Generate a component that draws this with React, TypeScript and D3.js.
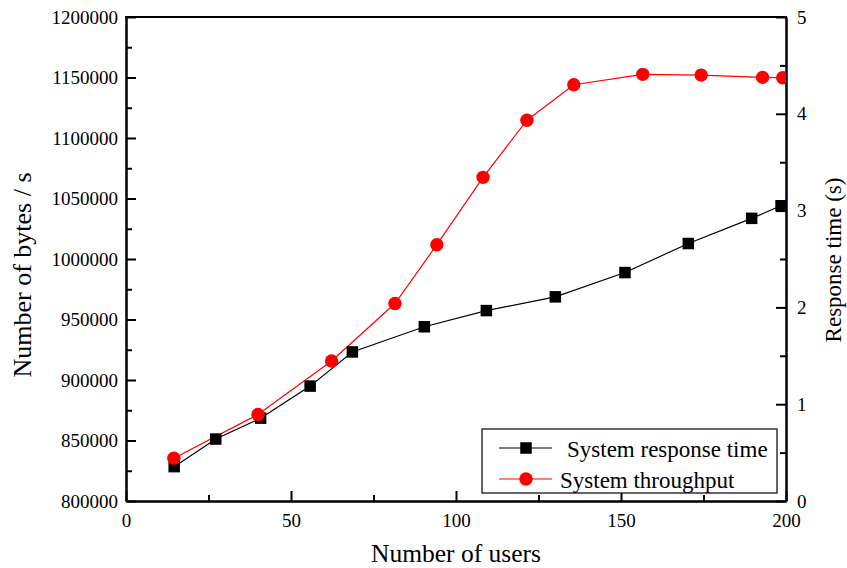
import React, { useRef, useEffect } from 'react'
import * as d3 from 'd3'

// response time series (black squares, right axis)
const rtUsers = [14.6, 27.2, 40.8, 55.8, 68.6, 90.4, 109.2, 130.1, 151.2, 170.4, 189.6, 198.5]
const responseTime = [0.355, 0.64, 0.856, 1.187, 1.54, 1.8, 1.967, 2.109, 2.36, 2.66, 2.92, 3.05]

// throughput series (red circles, left axis)
const tpUsers = [14.5, 40, 62.3, 81.5, 94.2, 108.2, 121.5, 135.7, 156.6, 174.3, 192.9, 199]
const throughput = [835400, 871500, 915700, 963200, 1011800, 1067500, 1114700, 1144000, 1152600, 1152000, 1150100, 1149800]

const xMajor = [0, 50, 100, 150, 200]
const xMinor = [25, 75, 125, 175]
const leftMajor = [800000, 850000, 900000, 950000, 1000000, 1050000, 1100000, 1150000, 1200000]
const leftMinor = [825000, 875000, 925000, 975000, 1025000, 1075000, 1125000, 1175000]
const rightMajor = [0, 1, 2, 3, 4, 5]
const rightMinor = [0.5, 1.5, 2.5, 3.5, 4.5]

const legendLabels = ['System response time', 'System throughput']

const FONT = '"Liberation Serif", "Times New Roman", serif'

export default function App() {
  const svgRef = useRef<SVGSVGElement>(null)

  useEffect(() => {
    const width = 847
    const height = 568
    const margin = { top: 17, right: 61, bottom: 67, left: 126 }

    const svg = d3.select(svgRef.current)
    svg.selectAll('*').remove()
    svg.attr('width', width).attr('height', height).attr('viewBox', `0 0 ${width} ${height}`)

    const x = d3.scaleLinear().domain([0, 200]).range([margin.left, width - margin.right])
    const yL = d3.scaleLinear().domain([800000, 1200000]).range([height - margin.bottom + 0, margin.top])
    const yR = d3.scaleLinear().domain([0, 5]).range([height - margin.bottom, margin.top])

    svg.append('defs').append('clipPath').attr('id', 'plotclip')
      .append('rect')
      .attr('x', margin.left).attr('y', margin.top)
      .attr('width', x(200) - x(0)).attr('height', yR(0) - yR(5))

    const styleAxis = (g: any) => {
      g.selectAll('path').attr('stroke', '#000').attr('stroke-width', 2)
      g.selectAll('line').attr('stroke', '#000').attr('stroke-width', 2)
      g.selectAll('text').attr('font-family', FONT).attr('font-size', 19).attr('fill', '#000')
    }

    // bottom axis
    const xb = svg.append('g')
      .attr('transform', `translate(0,${yR(0)})`)
      .call(d3.axisBottom(x).tickValues(xMajor).tickSize(-10).tickSizeOuter(0).tickPadding(13).tickFormat(d3.format('d')))
    styleAxis(xb)
    const xbm = svg.append('g')
      .attr('transform', `translate(0,${yR(0)})`)
      .call(d3.axisBottom(x).tickValues(xMinor).tickSize(-6).tickSizeOuter(0).tickFormat(() => ''))
    styleAxis(xbm)

    // left axis
    const yl = svg.append('g')
      .attr('transform', `translate(${x(0)},0)`)
      .call(d3.axisLeft(yL).tickValues(leftMajor).tickSize(-10).tickSizeOuter(0).tickPadding(8).tickFormat(d3.format('d')))
    styleAxis(yl)
    const ylm = svg.append('g')
      .attr('transform', `translate(${x(0)},0)`)
      .call(d3.axisLeft(yL).tickValues(leftMinor).tickSize(-6).tickSizeOuter(0).tickFormat(() => ''))
    styleAxis(ylm)

    // right axis
    const yr = svg.append('g')
      .attr('transform', `translate(${x(200)},0)`)
      .call(d3.axisRight(yR).tickValues(rightMajor).tickSize(-10).tickSizeOuter(0).tickPadding(11).tickFormat(d3.format('d')))
    styleAxis(yr)
    const yrm = svg.append('g')
      .attr('transform', `translate(${x(200)},0)`)
      .call(d3.axisRight(yR).tickValues(rightMinor).tickSize(-6).tickSizeOuter(0).tickFormat(() => ''))
    styleAxis(yrm)

    // top frame
    svg.append('line')
      .attr('x1', x(0) - 1).attr('x2', x(200) + 1)
      .attr('y1', yR(5)).attr('y2', yR(5))
      .attr('stroke', '#000').attr('stroke-width', 2)

    const plot = svg.append('g').attr('clip-path', 'url(#plotclip)')

    // throughput (red)
    const tp = tpUsers.map((u, i) => [u, throughput[i]] as [number, number])
    plot.append('path')
      .datum(tp)
      .attr('d', d3.line<[number, number]>().x(d => x(d[0])).y(d => yL(d[1])))
      .attr('fill', 'none').attr('stroke', '#ff0000').attr('stroke-width', 1.2)

    // response time (black)
    const rt = rtUsers.map((u, i) => [u, responseTime[i]] as [number, number])
    plot.append('path')
      .datum(rt)
      .attr('d', d3.line<[number, number]>().x(d => x(d[0])).y(d => yR(d[1])))
      .attr('fill', 'none').attr('stroke', '#000').attr('stroke-width', 1.2)

    const sq = 11.5
    plot.selectAll('rect.rt').data(rt).enter().append('rect')
      .attr('x', d => x(d[0]) - sq / 2).attr('y', d => yR(d[1]) - sq / 2)
      .attr('width', sq).attr('height', sq).attr('fill', '#000')

    plot.selectAll('circle.tp').data(tp).enter().append('circle')
      .attr('cx', d => x(d[0])).attr('cy', d => yL(d[1]))
      .attr('r', 6.7).attr('fill', '#ff0000')

    // axis titles
    svg.append('text')
      .attr('x', (x(0) + x(200)) / 2).attr('y', 562)
      .attr('text-anchor', 'middle')
      .attr('font-family', FONT).attr('font-size', 25.5)
      .text('Number of users')

    svg.append('text')
      .attr('transform', 'translate(31,275) rotate(-90)')
      .attr('text-anchor', 'middle')
      .attr('font-family', FONT).attr('font-size', 26)
      .text('Number of bytes / s')

    svg.append('text')
      .attr('transform', 'translate(841,260) rotate(-90)')
      .attr('text-anchor', 'middle')
      .attr('font-family', FONT).attr('font-size', 23)
      .text('Response time (s)')

    // legend
    const lg = svg.append('g')
    lg.append('rect')
      .attr('x', 482).attr('y', 429).attr('width', 295).attr('height', 64)
      .attr('fill', '#fff').attr('stroke', '#000').attr('stroke-width', 1.2)

    lg.append('line').attr('x1', 499).attr('x2', 552).attr('y1', 448).attr('y2', 448)
      .attr('stroke', '#000').attr('stroke-width', 1.2)
    lg.append('rect').attr('x', 526 - sq / 2).attr('y', 448 - sq / 2).attr('width', sq).attr('height', sq).attr('fill', '#000')
    lg.append('text').attr('x', 567).attr('y', 457)
      .attr('font-family', FONT).attr('font-size', 23).text(legendLabels[0])

    lg.append('line').attr('x1', 499).attr('x2', 552).attr('y1', 479).attr('y2', 479)
      .attr('stroke', '#ff0000').attr('stroke-width', 1.2)
    lg.append('circle').attr('cx', 526).attr('cy', 479).attr('r', 6.7).attr('fill', '#ff0000')
    lg.append('text').attr('x', 560).attr('y', 488)
      .attr('font-family', FONT).attr('font-size', 23).text(legendLabels[1])
  }, [])

  return (
    <svg ref={svgRef} style={{ position: 'absolute', left: 0, top: 0, background: '#fff' }} />
  )
}
